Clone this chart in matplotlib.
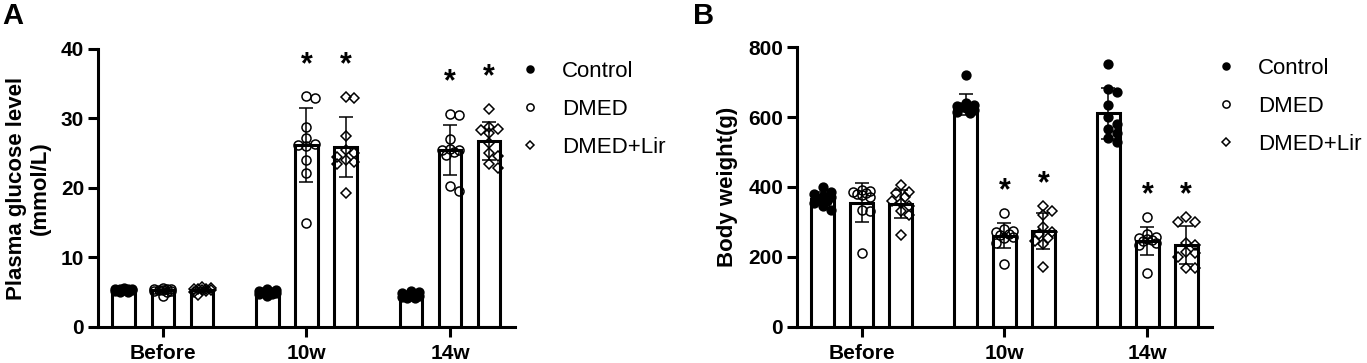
import numpy as np
import matplotlib.pyplot as plt
from matplotlib.lines import Line2D

plt.rcParams['font.family'] = ['Liberation Sans', 'DejaVu Sans']

groups = ['Before', '10w', '14w']
series = ['Control', 'DMED', 'DMED+Lir']

# plasma glucose (mmol/L), one list per time point
glu_control = [[5.6, 5.5, 5.5, 5.4, 5.4, 5.3, 5.3, 5.2, 5.1, 5.0],
               [5.4, 5.3, 5.2, 5.1, 5.0, 5.0, 4.9, 4.8, 4.7, 4.5],
               [5.2, 5.0, 4.9, 4.8, 4.6, 4.5, 4.4, 4.3, 4.2, 4.1]]
glu_dmed = [[5.6, 5.5, 5.5, 5.4, 5.3, 5.3, 5.2, 5.2, 5.1, 4.4],
            [33.0, 33.2, 28.8, 27.2, 26.2, 26.0, 26.3, 24.0, 22.1, 14.9],
            [30.7, 30.5, 27.0, 25.6, 25.5, 25.4, 25.2, 24.8, 20.3, 19.5]]
glu_lir = [[5.7, 5.6, 5.5, 5.5, 5.4, 5.3, 5.3, 5.2, 5.0, 4.6],
           [33.0, 33.1, 27.5, 25.5, 25.0, 24.5, 24.0, 23.8, 23.5, 19.3],
           [31.4, 28.8, 28.5, 28.3, 27.9, 26.5, 25.0, 24.6, 23.5, 22.8]]

# body weight (g)
bw_control = [[400, 385, 380, 375, 370, 365, 360, 355, 345, 335],
              [720, 640, 635, 632, 630, 628, 625, 620, 615, 612],
              [751, 679, 672, 634, 600, 580, 565, 555, 540, 528]]
bw_dmed = [[390, 388, 385, 383, 380, 378, 370, 335, 330, 210],
           [327, 280, 275, 270, 265, 262, 258, 255, 240, 180],
           [313, 265, 258, 255, 250, 248, 245, 240, 235, 153]]
bw_lir = [[405, 385, 382, 370, 360, 355, 345, 330, 320, 262],
          [347, 330, 320, 287, 272, 265, 255, 245, 238, 171],
          [313, 301, 301, 241, 235, 215, 210, 200, 168, 168]]

# which bars get a star: (group, series)
stars = [(1, 1), (1, 2), (2, 1), (2, 2)]

markers = [dict(marker='o', mfc='black', mec='black'),
           dict(marker='o', mfc='none', mec='black'),
           dict(marker='D', mfc='none', mec='black')]
msizes = [6.3, 6.5, 5.2]

GAP = 3.67
W = 0.58


def swarm(ax, x0, vals, diam, half_w):
    # simple beeswarm in pixel space, clipped to the bar width
    placed = []
    out = []
    step = diam * 0.5
    cands = [0.0]
    k = 1
    while k * step <= half_w:
        cands += [k * step, -k * step]
        k += 1
    for v in vals:
        yd = ax.transData.transform((x0, v))[1]
        best, bestd = 0.0, -1
        for c in cands:
            if placed:
                d = min(np.hypot(c - px, yd - py) for px, py in placed)
            else:
                d = np.inf
            if d >= diam:
                best = c
                break
            if d > bestd:
                best, bestd = c, d
        placed.append((best, yd))
        out.append(best)
    return out


def panel(ax, data, ymax, ystep, ylabel, star_off):
    ax.set_xlim(-0.66, 10.0)
    ax.set_ylim(0, ymax)
    px_per_x = ax.transData.transform((1, 0))[0] - ax.transData.transform((0, 0))[0]
    for s, ser in enumerate(data):
        for g, vals in enumerate(ser):
            x = g * GAP + s
            m = np.mean(vals)
            sd = np.std(vals, ddof=1)
            ax.bar(x, m, width=W, color='white', edgecolor='black', linewidth=2.2, zorder=1)
            order = np.argsort(vals)[::-1]
            sv = np.array(vals)[order]
            offs = swarm(ax, x, sv, 8.5, W * px_per_x * 0.5 - 2)
            xs = [x + o / px_per_x for o in offs]
            ax.plot(xs, sv, ls='none', ms=msizes[s], mew=1.1, zorder=3, clip_on=False, **markers[s])
            ax.errorbar(x, m, yerr=sd, fmt='none', ecolor='black', elinewidth=1.1,
                        capsize=4.7, capthick=1.1, zorder=4)
            if (g, s) in stars:
                ax.text(x, max(vals) + star_off, '*', ha='center', va='center',
                        fontsize=22, fontweight='bold', zorder=5)
    ax.set_xticks([g * GAP + 1 for g in range(3)])
    ax.set_xticklabels(groups)
    ax.set_yticks(np.arange(0, ymax + 1, ystep))
    for sp in ['top', 'right']:
        ax.spines[sp].set_visible(False)
    for sp in ['left', 'bottom']:
        ax.spines[sp].set_linewidth(2.2)
    ax.tick_params(axis='both', width=2.2, length=7, labelsize=15)
    ax.tick_params(axis='x', pad=5)
    ax.tick_params(axis='y', pad=3)
    for lb in ax.get_xticklabels() + ax.get_yticklabels():
        lb.set_fontweight('bold')
    ax.set_ylabel(ylabel, fontsize=16, fontweight='bold', labelpad=7)


fig = plt.figure(figsize=(13.67, 3.63), dpi=100)
axA = fig.add_axes([0.0717, 0.0992, 0.305, 0.766])
axB = fig.add_axes([0.583, 0.0992, 0.3036, 0.7713])

panel(axA, [glu_control, glu_dmed, glu_lir], 40, 10, 'Plasma glucose level\n(mmol/L)', 4.5)
panel(axB, [bw_control, bw_dmed, bw_lir], 800, 200, 'Body weight(g)', 62)

handles = [Line2D([], [], ls='none', ms=[5, 5.2, 4.2][i], mew=1.1, **markers[i]) for i in range(3)]
leg_kw = dict(loc='upper left', frameon=False, fontsize=16, handlelength=1.0,
              handletextpad=0.95, labelspacing=0.76, borderpad=0)
fig.legend(handles, series, bbox_to_anchor=(0.3712, 0.863), **leg_kw)
fig.legend(handles, series, bbox_to_anchor=(0.8805, 0.871), **leg_kw)

fig.text(0.002, 0.955, 'A', fontsize=21, fontweight='bold', va='center')
fig.text(0.507, 0.955, 'B', fontsize=21, fontweight='bold', va='center')

fig.savefig('out.png', dpi=100)
